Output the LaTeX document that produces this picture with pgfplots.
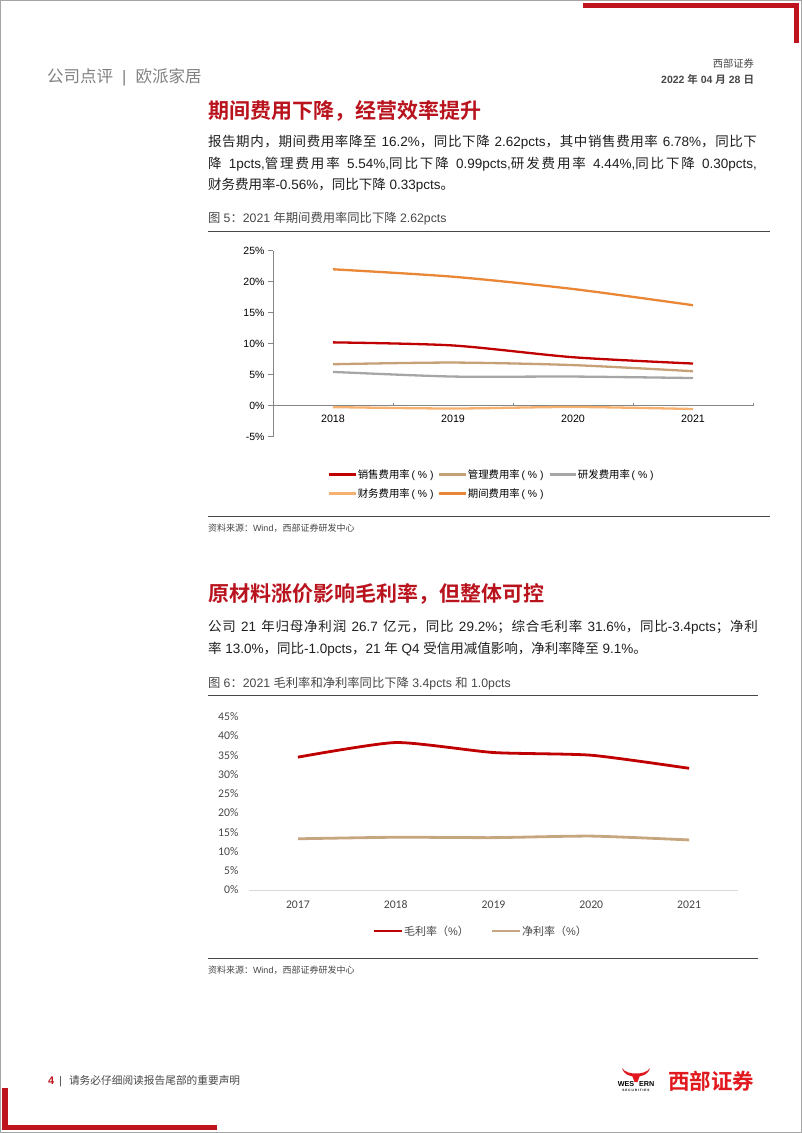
\documentclass[border=0pt]{standalone}
\usepackage{fontspec}
\setmainfont{Liberation Sans}
\newfontfamily\cjk{Noto Sans CJK SC}[BoldFont={Noto Sans CJK SC Bold}]
\newfontfamily\carlito{Carlito}
\usepackage{pgfplots}
\pgfplotsset{compat=1.18}
% automatic switch to the CJK font for CJK characters
\XeTeXinterchartokenstate=1
\newXeTeXintercharclass\cjkclass
\newcount\cjkc
\def\setcjkrange#1#2{\cjkc=#1 \loop\XeTeXcharclass\cjkc=\cjkclass \ifnum\cjkc<#2 \advance\cjkc by 1 \repeat}
\setcjkrange{"3000}{"303F}
\setcjkrange{"4E00}{"9FFF}
\setcjkrange{"FF00}{"FFEF}
\def\latinfont{\rmfamily}
\XeTeXinterchartoks 0 \cjkclass = {\cjk}
\XeTeXinterchartoks 4095 \cjkclass = {\cjk}
\XeTeXinterchartoks \cjkclass 0 = {\latinfont}
\XeTeXinterchartoks \cjkclass 4095 = {\latinfont}
\XeTeXinterchartoks \cjkclass \cjkclass = {\hskip 0pt plus 1pt\relax}
\newcommand\fs[1]{\fontsize{#1}{#1}\selectfont}
\definecolor{titred}{RGB}{185,20,30}
\definecolor{c1}{RGB}{192,0,0}
\definecolor{c2}{RGB}{198,160,118}
\definecolor{c3}{RGB}{166,166,166}
\definecolor{c4}{RGB}{246,176,112}
\definecolor{c5}{RGB}{233,135,55}
\definecolor{n2}{RGB}{198,166,126}
\definecolor{axgray}{RGB}{134,134,134}
\definecolor{axlight}{RGB}{217,217,217}
\definecolor{hdrgray}{RGB}{128,128,128}
\definecolor{txtgray}{RGB}{30,30,30}
\definecolor{rulegray}{RGB}{70,70,70}
\definecolor{pageborder}{RGB}{165,165,165}
\definecolor{logored}{RGB}{225,25,30}
\definecolor{redbar}{RGB}{190,20,30}
\begin{document}
\begin{tikzpicture}
\begin{scope}[x=1pt,y=-1pt, every node/.style={inner sep=0pt, outer sep=0pt}]
\path[use as bounding box] (0,0) rectangle (802,1133);
\draw[pageborder, line width=1pt] (0.5,0.5) rectangle (801.5,1132.5);
% red corner bars
\fill[redbar] (583,2.5) rectangle (799,7.5);
\fill[redbar] (793.5,2.5) rectangle (799,43);
\fill[redbar] (2,1088) rectangle (7.5,1130);
\fill[redbar] (2,1124.5) rectangle (217,1130);
% header
\node[anchor=base west, text=hdrgray] at (47,82) {\fs{16.5}公司点评\ \ |\ \ 欧派家居};
\node[anchor=base east, text=rulegray] at (754,67) {\fs{10.3}西部证券};
\node[anchor=base east, text=rulegray] at (754,83) {\fs{10.5}\bfseries 2022 年 04 月 28 日};
% section 1
\node[anchor=base west, text=titred] at (208,118) {\fs{21}\bfseries 期间费用下降，经营效率提升};
\node[anchor=base west, text=txtgray] at (208,146.7) {\fs{13.5}\hbox to 549pt{报告期内，期间费用率降至 16.2\%，同比下降 2.62pcts，其中销售费用率 6.78\%，同比下}};
\node[anchor=base west, text=txtgray] at (208,168.3) {\fs{13.5}\hbox to 549pt{降 1pcts,管理费用率 5.54\%,同比下降 0.99pcts,研发费用率 4.44\%,同比下降 0.30pcts,}};
\node[anchor=base west, text=txtgray] at (208,189.5) {\fs{13.5}财务费用率-0.56\%，同比下降 0.33pcts。};
\node[anchor=base west, text=rulegray] at (208,222.7) {\fs{12.3}图 5：2021 年期间费用率同比下降 2.62pcts};
\draw[rulegray, line width=1pt] (208,231) -- (770,231);
\draw[rulegray, line width=1pt] (208,516) -- (770,516);
\node[anchor=base west, text=rulegray] at (208,531.8) {\fs{9}资料来源：Wind，西部证券研发中心};
% section 2
\node[anchor=base west, text=titred] at (208,601) {\fs{21}\bfseries 原材料涨价影响毛利率，但整体可控};
\node[anchor=base west, text=txtgray] at (208,631) {\fs{13.5}\hbox to 550pt{公司 21 年归母净利润 26.7 亿元，同比 29.2\%；综合毛利率 31.6\%，同比-3.4pcts；净利}};
\node[anchor=base west, text=txtgray] at (208,653) {\fs{13.5}率 13.0\%，同比-1.0pcts，21 年 Q4 受信用减值影响，净利率降至 9.1\%。};
\node[anchor=base west, text=rulegray] at (208,687) {\fs{12.3}图 6：2021 毛利率和净利率同比下降 3.4pcts 和 1.0pcts};
\draw[rulegray, line width=1pt] (208,695.3) -- (758,695.3);
\draw[rulegray, line width=1pt] (208,958.3) -- (758,958.3);
\node[anchor=base west, text=rulegray] at (208,973.3) {\fs{9}资料来源：Wind，西部证券研发中心};
% footer
\node[anchor=base west, text=redbar] at (48,1084) {\fs{11}\bfseries 4};
\node[anchor=base west, text=rulegray] at (59,1084) {\fs{11}|};
\node[anchor=base west, text=rulegray] at (69,1084) {\fs{10.7}请务必仔细阅读报告尾部的重要声明};
% logo
\fill[logored] (622,1068) .. controls (624,1075) and (630,1076.5) .. (636,1076.5) .. controls (642,1076.5) and (648,1075) .. (650,1068) .. controls (647,1072.5) and (641,1073.5) .. (636,1073.5) .. controls (631,1073.5) and (625,1072.5) .. (622,1068) -- cycle;
\fill[logored] (631.5,1074) -- (640.5,1074) -- (637.5,1082) -- (634.5,1082) -- cycle;
\node[anchor=base, text=black] at (636,1086) {\fs{7.2}\bfseries WES\,\,\,\,ERN};
\node[anchor=base, text=black] at (636,1091.5) {\fs{3.2}\bfseries S E C U R I T I E S};
\node[anchor=base west, text=logored] at (668,1089) {\fs{21.5}\bfseries 西部证券};
\end{scope}

% ---------------- chart 1 ----------------
\begin{axis}[
  at={(273pt,-436.5pt)}, anchor=south west,
  scale only axis, width=480pt, height=185.8pt,
  xmin=2017.5, xmax=2021.5, ymin=-5, ymax=25,
  axis lines=left,
  axis line style={-, draw=axgray, line width=0.8pt},
  x axis line style={draw=none},
  xtick={2018,2019,2020,2021},
  xticklabels={2018,2019,2020,2021},
  x tick style={draw=none},
  ytick={-5,0,5,10,15,20,25},
  yticklabels={-5\%,0\%,5\%,10\%,15\%,20\%,25\%},
  y tick style={draw=axgray, line width=0.8pt},
  tick align=outside, major tick length=5pt,
  xticklabel style={anchor=base, yshift=18.6pt, font=\fs{10.7}, text=black},
  yticklabel style={anchor=east, font=\fs{10.5}, text=black},
  clip=false,
  legend columns=3,
  legend cell align=left,
  legend style={at={(axis description cs:0.1146,-0.172)}, anchor=north west,
    draw=none, fill=none, inner sep=0pt, font=\fs{10.4}, text=black,
    nodes={inner sep=0.8pt}, row sep=7pt,
    /tikz/every even column/.append style={column sep=4pt}},
  legend image code/.code={\draw[#1, line width=2.3pt] (0pt,0pt) -- (26.5pt,0pt);},
]
\draw[axgray, line width=0.8pt] (axis cs:2017.5,0) -- (axis cs:2021.5,0);
\draw[axgray, line width=0.8pt] (axis cs:2018.5,0) -- ++(0pt,3pt);
\draw[axgray, line width=0.8pt] (axis cs:2019.5,0) -- ++(0pt,3pt);
\draw[axgray, line width=0.8pt] (axis cs:2020.5,0) -- ++(0pt,3pt);
\draw[axgray, line width=0.8pt] (axis cs:2021.5,0) -- ++(0pt,3pt);
\addplot[c1, line width=2.3pt, smooth, tension=0.45] coordinates {(2018,10.2)(2019,9.7)(2020,7.8)(2021,6.78)};
\addlegendentry{销售费用率\,( \% )}
\addplot[c2, line width=2.3pt, smooth, tension=0.45] coordinates {(2018,6.67)(2019,6.94)(2020,6.53)(2021,5.54)};
\addlegendentry{管理费用率\,( \% )}
\addplot[c3, line width=2.3pt, smooth, tension=0.45] coordinates {(2018,5.43)(2019,4.68)(2020,4.68)(2021,4.44)};
\addlegendentry{研发费用率\,( \% )}
\addplot[c4, line width=2.3pt, smooth, tension=0.45] coordinates {(2018,-0.25)(2019,-0.48)(2020,-0.23)(2021,-0.56)};
\addlegendentry{财务费用率\,( \% )}
\addplot[c5, line width=2.3pt, smooth, tension=0.45] coordinates {(2018,22.0)(2019,20.8)(2020,18.82)(2021,16.2)};
\addlegendentry{期间费用率\,( \% )}
\end{axis}

% ---------------- chart 2 ----------------
\begin{axis}[
  at={(249pt,-890pt)}, anchor=south west,
  scale only axis, width=489pt, height=173.3pt,
  xmin=2016.5, xmax=2021.5, ymin=0, ymax=45,
  axis lines=left,
  axis line style={-, draw=none},
  x axis line style={draw=axlight, line width=1pt},
  xtick={2017,2018,2019,2020,2021},
  xticklabels={2017,2018,2019,2020,2021},
  ytick={0,5,...,45},
  yticklabels={0\%,5\%,10\%,15\%,20\%,25\%,30\%,35\%,40\%,45\%},
  tick style={draw=none}, major tick length=0pt,
  xticklabel style={anchor=base, yshift=-18.7pt, font=\carlito\fs{11.7}, text=rulegray},
  yticklabel style={anchor=east, xshift=-7pt, font=\carlito\fs{11.7}, text=rulegray},
  clip=false,
  legend columns=2,
  legend cell align=left,
  legend style={at={(axis description cs:0.2525,-0.2)}, anchor=north west,
    draw=none, fill=none, inner sep=0pt, font=\fs{11}, text=rulegray,
    nodes={inner sep=0.8pt},
    /tikz/every even column/.append style={column sep=21pt}},
  legend image code/.code={\draw[#1, line width=2.6pt] (0pt,0pt) -- (28pt,0pt);},
]
\addplot[c1, line width=2.8pt, smooth, tension=0.35] coordinates {(2017,34.5)(2018,38.3)(2019,35.7)(2020,35.0)(2021,31.6)};
\addlegendentry{毛利率（\%）}
\addplot[n2, line width=2.8pt, smooth, tension=0.35] coordinates {(2017,13.3)(2018,13.7)(2019,13.6)(2020,14.0)(2021,13.0)};
\addlegendentry{净利率（\%）}
\end{axis}
\end{tikzpicture}
\end{document}
